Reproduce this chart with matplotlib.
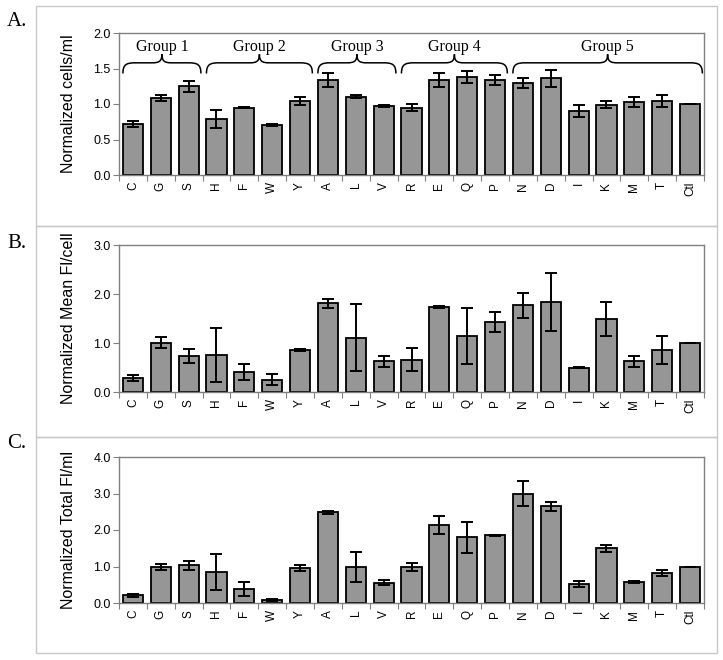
import matplotlib
matplotlib.use('Agg')
import matplotlib.pyplot as plt
from matplotlib.patches import Rectangle, PathPatch
from matplotlib.path import Path
import numpy as np

# amino acid categories (x axis), same for all three panels
labels = ['C', 'G', 'S', 'H', 'F', 'W', 'Y', 'A', 'L', 'V', 'R',
          'E', 'Q', 'P', 'N', 'D', 'I', 'K', 'M', 'T', 'Ctl']

# panel A: normalized cells/ml
cells = [0.72, 1.08, 1.25, 0.79, 0.95, 0.70, 1.04, 1.34, 1.10, 0.97, 0.95,
         1.34, 1.38, 1.34, 1.29, 1.36, 0.90, 0.99, 1.03, 1.04, 1.00]
cells_err = [0.04, 0.04, 0.08, 0.13, 0.01, 0.015, 0.06, 0.10, 0.02, 0.01, 0.05,
             0.10, 0.08, 0.07, 0.07, 0.12, 0.09, 0.05, 0.07, 0.08, 0.0]

# panel B: normalized mean FI/cell
mean_fi = [0.28, 1.01, 0.73, 0.76, 0.41, 0.25, 0.86, 1.81, 1.11, 0.63, 0.66,
           1.74, 1.14, 1.43, 1.77, 1.83, 0.50, 1.49, 0.63, 0.86, 1.00]
mean_err = [0.06, 0.11, 0.145, 0.555, 0.17, 0.11, 0.02, 0.095, 0.685, 0.11, 0.24,
            0.02, 0.57, 0.21, 0.25, 0.59, 0.01, 0.35, 0.11, 0.29, 0.0]

# panel C: normalized total FI/ml
total_fi = [0.21, 0.99, 1.03, 0.85, 0.39, 0.08, 0.95, 2.48, 0.99, 0.56, 0.99,
            2.14, 1.80, 1.85, 3.00, 2.65, 0.52, 1.50, 0.57, 0.82, 1.00]
total_err = [0.05, 0.08, 0.13, 0.50, 0.19, 0.03, 0.08, 0.03, 0.41, 0.07, 0.11,
             0.24, 0.43, 0.02, 0.35, 0.13, 0.07, 0.10, 0.02, 0.08, 0.0]

# groups shown with braces above panel A: (name, first index, last index)
groups = [('Group 1', 0, 2), ('Group 2', 3, 6), ('Group 3', 7, 9),
          ('Group 4', 10, 13), ('Group 5', 14, 20)]

W, H = 723, 660
fig = plt.figure(figsize=(W / 100, H / 100), dpi=100)

sans = ['Liberation Sans', 'DejaVu Sans']
serif = ['Liberation Serif', 'DejaVu Serif']


def px_rect(x0, y0, x1, y1):
    # pixel box (top-left origin) -> figure fraction [l, b, w, h]
    return [x0 / W, 1 - y1 / H, (x1 - x0) / W, (y1 - y0) / H]


# light gray frames around each panel
for y0, y1 in [(6, 226), (226, 437), (437, 653)]:
    l, b, w, h = px_rect(36, y0, 717, y1)
    fig.patches.append(Rectangle((l, b), w, h, transform=fig.transFigure,
                                 fill=False, edgecolor='#c8c8c8', lw=1.0))

panels = [
    ('A.', 22, px_rect(119, 33, 704, 175), cells, cells_err, 2.0, 0.5, 'Normalized cells/ml'),
    ('B.', 243, px_rect(119, 245, 704, 392), mean_fi, mean_err, 3.0, 1.0, 'Normalized Mean Fl/cell'),
    ('C.', 444, px_rect(119, 457, 704, 603), total_fi, total_err, 4.0, 1.0, 'Normalized Total Fl/ml'),
]

x = np.arange(len(labels))
axes = []
for letter, ly, rect, vals, errs, ymax, step, ylab in panels:
    ax = fig.add_axes(rect)
    axes.append(ax)
    ax.bar(x, vals, width=0.72, color='#969696', edgecolor='black', linewidth=1.3, zorder=2)
    ax.errorbar(x, vals, yerr=errs, fmt='none', ecolor='black', elinewidth=1.4,
                capsize=4, capthick=1.4, zorder=3)
    ax.set_xlim(-0.5, len(labels) - 0.5)
    ax.set_ylim(0, ymax)
    ax.set_yticks(np.arange(0, ymax + step / 2, step))
    ax.set_yticklabels(['%.1f' % v for v in np.arange(0, ymax + step / 2, step)],
                       family=sans, fontsize=9)
    ax.set_xticks(x)
    ax.set_xticklabels(labels, rotation=90, family=sans, fontsize=8.5)
    ax.set_xticks(np.arange(-0.5, len(labels), 1.0), minor=True)
    ax.tick_params(axis='x', which='major', length=0, pad=5)
    ax.tick_params(axis='x', which='minor', length=4, color='#808080', width=0.8)
    ax.tick_params(axis='y', length=4, color='#808080', width=0.8, pad=2)
    for s in ax.spines.values():
        s.set_color('#808080')
        s.set_linewidth(1.0)
    ax.set_ylabel(ylab, family=sans, fontsize=11.5, va='center')
    ax.yaxis.set_label_coords(-0.087, 0.5)
    fig.text(7 / W, 1 - ly / H, letter, family=serif, fontsize=15, va='center', ha='left')

# curly braces and group names over panel A
axA = axes[0]
y_end, y_line, y_peak, y_text = 1.43, 1.58, 1.70, 1.80
re, rm = 0.45, 0.35
for name, i0, i1 in groups:
    x0 = i0 - 0.5 + 0.14
    x1 = i1 + 0.5 - 0.06
    xm = (x0 + x1) / 2
    verts = [(x0, y_end),
             (x0, y_line - 0.02), (x0 + re * 0.3, y_line), (x0 + re, y_line),
             (xm - rm, y_line),
             (xm - rm * 0.3, y_line), (xm, y_line + 0.02), (xm, y_peak),
             (xm, y_line + 0.02), (xm + rm * 0.3, y_line), (xm + rm, y_line),
             (x1 - re, y_line),
             (x1 - re * 0.3, y_line), (x1, y_line - 0.02), (x1, y_end)]
    codes = [Path.MOVETO,
             Path.CURVE4, Path.CURVE4, Path.CURVE4,
             Path.LINETO,
             Path.CURVE4, Path.CURVE4, Path.CURVE4,
             Path.CURVE4, Path.CURVE4, Path.CURVE4,
             Path.LINETO,
             Path.CURVE4, Path.CURVE4, Path.CURVE4]
    axA.add_patch(PathPatch(Path(verts, codes), fill=False, edgecolor='black', lw=1.1, zorder=4))
    axA.text(xm, y_text, name, family=serif, fontsize=11.5, ha='center', va='center')

fig.savefig('out.png', dpi=100)
